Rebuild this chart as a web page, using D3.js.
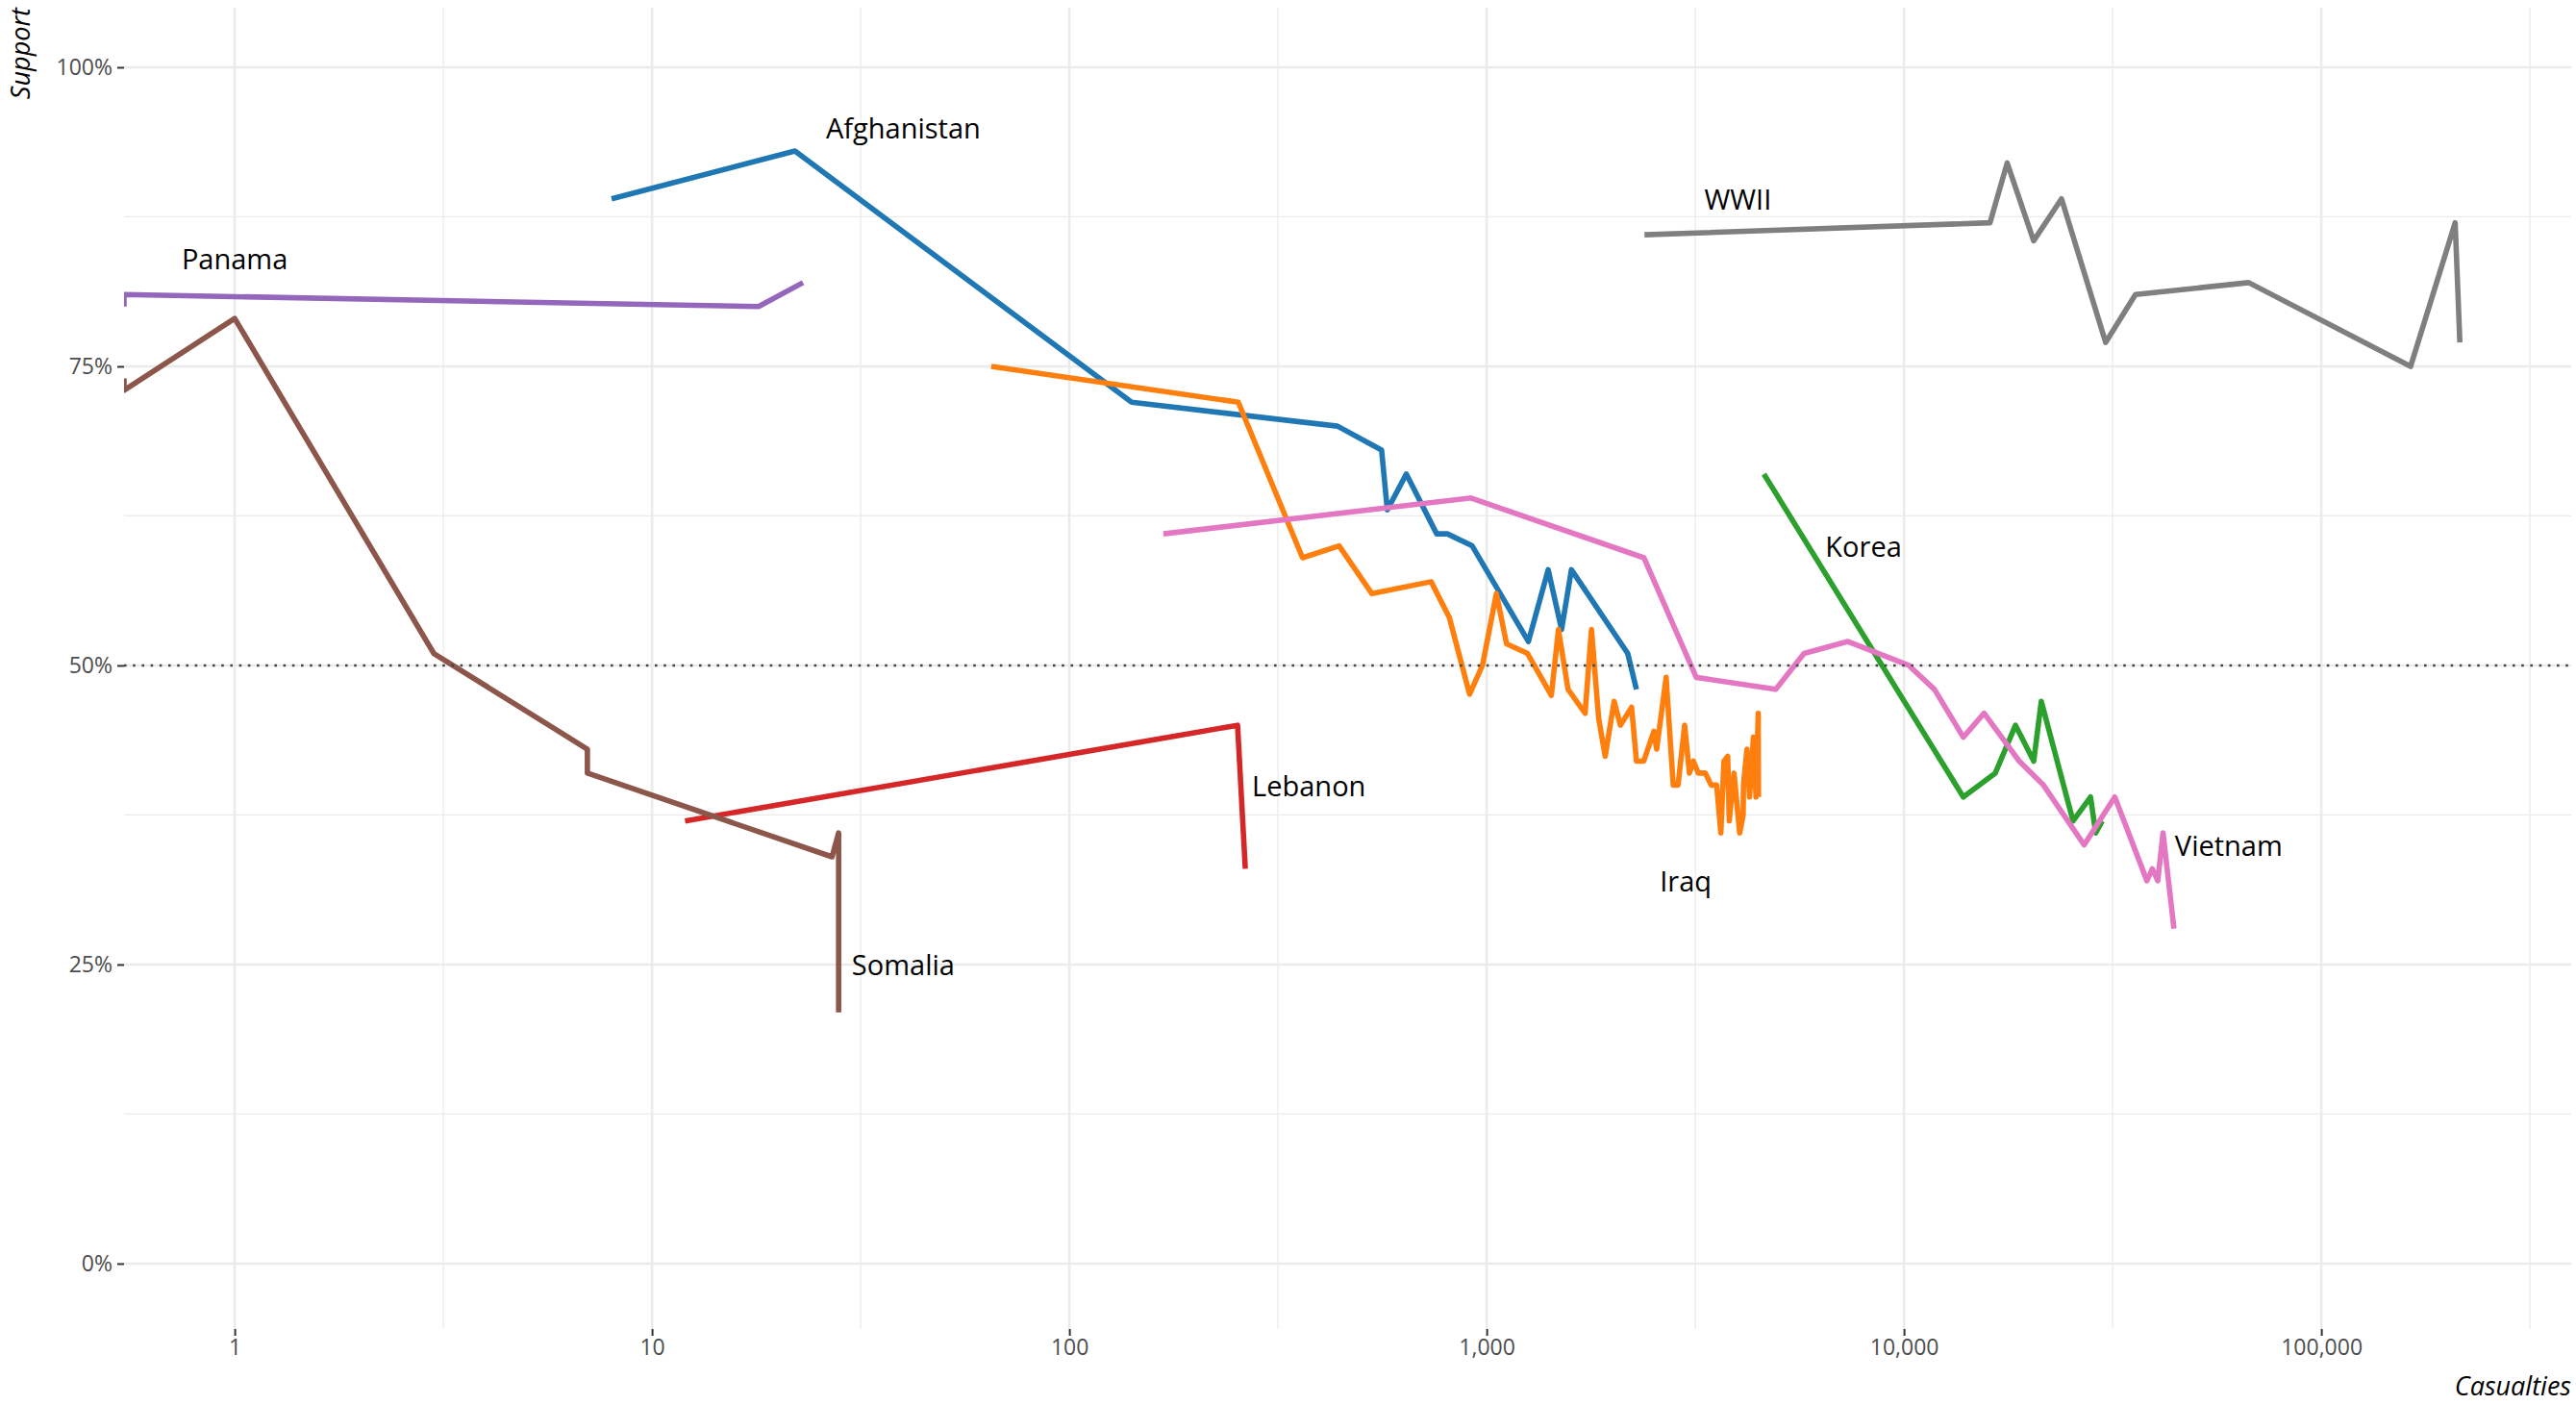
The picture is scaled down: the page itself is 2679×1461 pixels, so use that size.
<!DOCTYPE html>
<html>
<head>
<meta charset="utf-8">
<script src="https://cdn.jsdelivr.net/npm/d3@7"></script>
<style>
  html, body { margin: 0; padding: 0; background: #ffffff; }
  svg { display: block; font-family: "Open Sans", "Noto Sans", sans-serif; }
</style>
</head>
<body>
<svg id="chart" width="2679" height="1461"></svg>
<script>
// ---------------- DATA ----------------
const wars = ["Afghanistan", "Iraq", "Korea", "Lebanon", "Panama", "Somalia", "Vietnam", "WWII"];
const warColors = ["#1f77b4", "#ff7f0e", "#2ca02c", "#d62728", "#9467bd", "#8c564b", "#e377c2", "#7f7f7f"];

const afghanistanCasualties = [8, 22, 141, 439, 560, 578, 642, 759, 805, 923, 1259, 1404, 1512, 1596, 2178, 2285];
const afghanistanSupport    = [89, 93, 72, 70, 68, 63, 66, 61, 61, 60, 52, 58, 53, 58, 51, 48];

const iraqCasualties = [65, 254, 362, 443, 531, 736, 814, 910, 977, 1055, 1116, 1253, 1429, 1486, 1567, 1721, 1783, 1855, 1923,
                        2020, 2091, 2225, 2285, 2379, 2516, 2555, 2692, 2799, 2875, 2981, 3061, 3129, 3214, 3342, 3451, 3557,
                        3640, 3703, 3781, 3813, 3915, 4039, 4117, 4125, 4204, 4265, 4357, 4420, 4474, 4480];
const iraqSupport    = [75, 72, 59, 60, 56, 57, 54, 47.6, 50, 56, 51.8, 51, 47.5, 53, 48, 46, 53, 45.6, 42.4,
                        47, 45, 46.5, 42, 42, 44.5, 43, 49, 40, 40, 45, 41, 42, 41, 41, 40, 40,
                        36, 42, 42.4, 37, 41, 36, 37.5, 40, 43, 39, 44, 39, 46, 39];

const koreaCasualties = [4617, 13870, 16550, 18500, 20460, 21330, 25420, 27990, 28800, 29850];
const koreaSupport    = [66, 39, 41, 45, 42, 47, 37, 39, 36, 37];

const lebanonCasualties = [12, 253, 264];
const lebanonSupport    = [37, 45, 33];

const panamaCasualties = [0, 0, 18, 23];
const panamaSupport    = [80, 81, 80, 82];

const somaliaCasualties = [0, 0, 1, 3, 7, 7, 27, 28, 28, 28];
const somaliaSupport    = [74, 73, 79, 51, 43, 41, 34, 36, 29, 21];

const vietnamCasualties = [168, 917, 2381, 3178, 4930, 5760, 7340, 10270, 11830, 13870, 15560, 18890, 21580, 27030,
                           32000, 38200, 39360, 40560, 41760, 44350];
const vietnamSupport    = [61, 64, 59, 49, 48, 51, 52, 50, 48, 44, 46, 42, 40, 35, 39, 32, 33, 32, 36, 28];

const wwiiCasualties = [2389, 16070, 17670, 20450, 23850, 30430, 35870, 67000, 163700, 209300, 214800];
const wwiiSupport    = [86, 87, 92, 85.5, 89, 77, 81, 82, 75, 87, 77];

// label anchor positions (data coordinates)
const labelCasualties = [40, 3000, 8000, 375, 1, 40, 60000, 4000];
const labelSupport    = [95, 32, 60, 40, 84, 25, 35, 89];

const xTicks = [1, 10, 100, 1000, 10000, 100000];
const xTickLabels = ["1", "10", "100", "1,000", "10,000", "100,000"];
const xMinorTicks = [3.1623, 31.623, 316.23, 3162.3, 31623, 316228];
const yTicks = [0, 25, 50, 75, 100];
const yTickLabels = ["0%", "25%", "50%", "75%", "100%"];
const yMinorTicks = [12.5, 37.5, 62.5, 87.5];
const referenceSupport = 50;

const seriesCasualties = [afghanistanCasualties, iraqCasualties, koreaCasualties, lebanonCasualties,
                          panamaCasualties, somaliaCasualties, vietnamCasualties, wwiiCasualties];
const seriesSupport = [afghanistanSupport, iraqSupport, koreaSupport, lebanonSupport,
                       panamaSupport, somaliaSupport, vietnamSupport, wwiiSupport];

// ---------------- LAYOUT ----------------
const W = 2679, H = 1461;
const panel = { left: 129, right: 2674, top: 8, bottom: 1382 };

const svg = d3.select("#chart");

const x = d3.scaleLog().domain([0.543, 397000]).range([panel.left, panel.right]);
const y = d3.scaleLinear().domain([-5.47, 104.98]).range([panel.bottom, panel.top]);

// zero casualties are drawn at the panel's left edge (like -Inf on a log axis)
const xPos = c => (c <= 0 ? panel.left : x(c));

// grid
const grid = svg.append("g");
grid.selectAll(".ymin").data(yMinorTicks).enter().append("line")
  .attr("x1", panel.left).attr("x2", panel.right)
  .attr("y1", d => y(d)).attr("y2", d => y(d))
  .attr("stroke", "#ebebeb").attr("stroke-width", 1.3);
grid.selectAll(".xmin").data(xMinorTicks).enter().append("line")
  .attr("x1", d => x(d)).attr("x2", d => x(d))
  .attr("y1", panel.top).attr("y2", panel.bottom)
  .attr("stroke", "#ebebeb").attr("stroke-width", 1.3);
grid.selectAll(".ymaj").data(yTicks).enter().append("line")
  .attr("x1", panel.left).attr("x2", panel.right)
  .attr("y1", d => y(d)).attr("y2", d => y(d))
  .attr("stroke", "#ebebeb").attr("stroke-width", 2.6);
grid.selectAll(".xmaj").data(xTicks).enter().append("line")
  .attr("x1", d => x(d)).attr("x2", d => x(d))
  .attr("y1", panel.top).attr("y2", panel.bottom)
  .attr("stroke", "#ebebeb").attr("stroke-width", 2.6);

// axes
const xAxis = d3.axisBottom(x).tickValues(xTicks).tickFormat((d, i) => xTickLabels[i]).tickSize(7).tickPadding(4);
const gx = svg.append("g").attr("transform", `translate(0,${panel.bottom})`).call(xAxis);
gx.select(".domain").remove();
gx.selectAll(".tick line").attr("stroke", "#333333").attr("stroke-width", 2);
gx.selectAll(".tick text").attr("fill", "#4d4d4d").style("font-size", "23px")
  .style("font-family", "'Open Sans', sans-serif");

const yAxis = d3.axisLeft(y).tickValues(yTicks).tickFormat((d, i) => yTickLabels[i]).tickSize(7).tickPadding(5);
const gy = svg.append("g").attr("transform", `translate(${panel.left},0)`).call(yAxis);
gy.select(".domain").remove();
gy.selectAll(".tick line").attr("stroke", "#333333").attr("stroke-width", 2);
gy.selectAll(".tick text").attr("fill", "#4d4d4d").style("font-size", "23px")
  .style("font-family", "'Open Sans', sans-serif");

// clip
svg.append("clipPath").attr("id", "clip").append("rect")
  .attr("x", panel.left).attr("y", panel.top)
  .attr("width", panel.right - panel.left).attr("height", panel.bottom - panel.top);

// lines
const line = d3.line().x(d => xPos(d.c)).y(d => y(d.s));
const linesG = svg.append("g").attr("clip-path", "url(#clip)");
wars.forEach((w, i) => {
  const pts = seriesCasualties[i].map((c, j) => ({ c: c, s: seriesSupport[i][j] }));
  linesG.append("path")
    .datum(pts)
    .attr("d", line)
    .attr("fill", "none")
    .attr("stroke", warColors[i])
    .attr("stroke-width", 5.6)
    .attr("stroke-linejoin", "round")
    .attr("stroke-linecap", "butt");
});

// 50% reference line
svg.append("line")
  .attr("x1", panel.left).attr("x2", panel.right)
  .attr("y1", y(referenceSupport)).attr("y2", y(referenceSupport))
  .attr("stroke", "#444444").attr("stroke-width", 2.6)
  .attr("stroke-dasharray", "2.6 6.6");

// labels
svg.append("g").selectAll("text").data(wars).enter().append("text")
  .attr("x", (d, i) => x(labelCasualties[i]))
  .attr("y", (d, i) => y(labelSupport[i]))
  .attr("text-anchor", "middle")
  .attr("dominant-baseline", "central")
  .attr("fill", "#000000")
  .style("font-size", "29px")
  .text(d => d);

// axis titles
svg.append("text")
  .attr("transform", `translate(31,${panel.top}) rotate(-90)`)
  .attr("text-anchor", "end")
  .style("font-size", "27px").style("font-style", "italic")
  .attr("fill", "#000000")
  .text("Support");

svg.append("text")
  .attr("x", panel.right).attr("y", 1451)
  .attr("text-anchor", "end")
  .style("font-size", "27px").style("font-style", "italic")
  .attr("fill", "#000000")
  .text("Casualties");
</script>
</body>
</html>
